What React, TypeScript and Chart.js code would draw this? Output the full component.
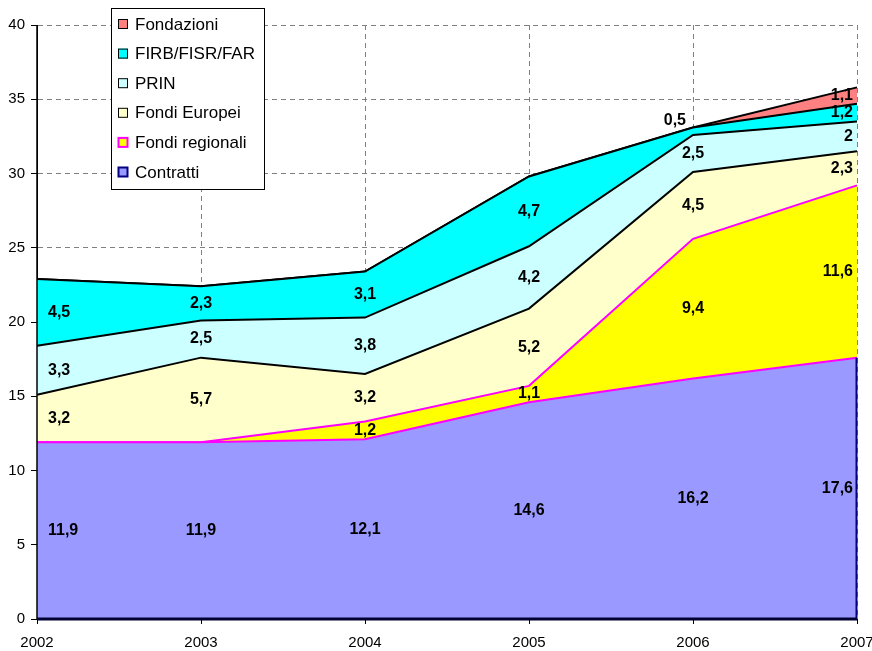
import React, { useEffect, useRef } from "react";
import { Chart, registerables } from "chart.js";

Chart.register(...registerables);

const years = ["2002", "2003", "2004", "2005", "2006", "2007"];
const contratti = [11.9, 11.9, 12.1, 14.6, 16.2, 17.6];
const fondiRegionali = [0, 0, 1.2, 1.1, 9.4, 11.6];
const fondiEuropei = [3.2, 5.7, 3.2, 5.2, 4.5, 2.3];
const prin = [3.3, 2.5, 3.8, 4.2, 2.5, 2];
const firb = [4.5, 2.3, 3.1, 4.7, 0.5, 1.2];
const fondazioni = [0, 0, 0, 0, 0, 1.1];

const seriesNames = ["Contratti", "Fondi regionali", "Fondi Europei", "PRIN", "FIRB/FISR/FAR", "Fondazioni"];
const fillColors = ["#9999FF", "#FFFF00", "#FFFFCC", "#CCFFFF", "#00FFFF", "#FF8080"];
const lineColors = ["#FF00FF", "#FF00FF", "#000000", "#000000", "#000000", "#000000"];
const legendBorders = ["#000080", "#FF00FF", "#000000", "#000000", "#000000", "#000000"];

const FONT = "'Liberation Sans', Arial, sans-serif";

const fmt = (v: number) => String(v).replace(".", ",");

const axesPlugin = {
  id: "solidAxes",
  afterDatasetsDraw(chart: any) {
    const ctx = chart.ctx;
    const a = chart.chartArea;
    ctx.save();
    ctx.strokeStyle = "#000";
    ctx.lineWidth = 1.5;
    ctx.beginPath();
    ctx.moveTo(a.left, a.top);
    ctx.lineTo(a.left, a.bottom);
    ctx.stroke();
    ctx.strokeStyle = "#000080";
    ctx.lineWidth = 2;
    ctx.beginPath();
    ctx.moveTo(a.right - 0.5, a.bottom);
    ctx.lineTo(a.right - 0.5, chart.scales.y.getPixelForValue(contratti[contratti.length - 1]));
    ctx.stroke();
    ctx.strokeStyle = "#000033";
    ctx.lineWidth = 3;
    ctx.beginPath();
    ctx.moveTo(a.left, a.bottom);
    ctx.lineTo(a.right, a.bottom);
    ctx.stroke();
    ctx.restore();
  },
};

const dataLabelsPlugin = {
  id: "stackLabels",
  afterDatasetsDraw(chart: any) {
    const ctx = chart.ctx;
    const xs = chart.scales.x;
    const ys = chart.scales.y;
    const n = chart.data.labels.length;
    const cum = new Array(n).fill(0);
    ctx.save();
    ctx.font = `bold 16px ${FONT}`;
    ctx.fillStyle = "#000";
    chart.data.datasets.forEach((ds: any) => {
      ds.data.forEach((v: number, j: number) => {
        const bottom = cum[j];
        cum[j] += v;
        if (!v) return;
        const top = cum[j];
        const px = xs.getPixelForValue(j);
        if (v < 1) {
          ctx.textAlign = "right";
          ctx.textBaseline = "alphabetic";
          ctx.fillText(fmt(v), px - 7, ys.getPixelForValue(top) - 2);
          return;
        }
        const py = ys.getPixelForValue((top + bottom) / 2);
        ctx.textBaseline = "middle";
        if (j === 0) {
          ctx.textAlign = "left";
          ctx.fillText(fmt(v), px + 11, py);
        } else if (j === n - 1) {
          ctx.textAlign = "right";
          ctx.fillText(fmt(v), px - 4, py);
        } else {
          ctx.textAlign = "center";
          ctx.fillText(fmt(v), px, py);
        }
      });
    });
    ctx.restore();
  },
};

const legendPlugin = {
  id: "boxLegend",
  afterDraw(chart: any) {
    const ctx = chart.ctx;
    ctx.save();
    const bx = 111.5, by = 8.5, bw = 153, bh = 181;
    ctx.fillStyle = "#fff";
    ctx.fillRect(bx, by, bw, bh);
    ctx.strokeStyle = "#000";
    ctx.lineWidth = 1;
    ctx.strokeRect(bx, by, bw, bh);
    ctx.font = `17px ${FONT}`;
    ctx.textAlign = "left";
    ctx.textBaseline = "middle";
    for (let k = 0; k < seriesNames.length; k++) {
      const i = seriesNames.length - 1 - k;
      const cy = 24 + k * 29.6;
      const thick = legendBorders[i] !== "#000000";
      ctx.fillStyle = fillColors[i];
      ctx.fillRect(118, cy - 5, 10, 10);
      ctx.strokeStyle = legendBorders[i];
      ctx.lineWidth = thick ? 2 : 1;
      ctx.strokeRect(118.5, cy - 4.5, 9, 9);
      ctx.fillStyle = "#000";
      ctx.fillText(seriesNames[i], 135, cy + 1);
    }
    ctx.restore();
  },
};

export default function App() {
  const ref = useRef<HTMLCanvasElement>(null);
  useEffect(() => {
    if (!ref.current) return;
    const series = [contratti, fondiRegionali, fondiEuropei, prin, firb, fondazioni];
    const chart = new Chart(ref.current, {
      type: "line",
      data: {
        labels: years,
        datasets: series.map((d, i) => ({
          label: seriesNames[i],
          data: d,
          backgroundColor: fillColors[i],
          borderColor: lineColors[i],
          borderWidth: 2,
          fill: i === 0 ? "origin" : "-1",
          pointRadius: 0,
          tension: 0,
        })),
      },
      options: {
        animation: false,
        responsive: false,
        devicePixelRatio: 1,
        layout: { padding: { top: 25, right: 15, left: 0, bottom: 0 } },
        plugins: { legend: { display: false }, tooltip: { enabled: false }, title: { display: false } },
        scales: {
          x: {
            type: "category",
            offset: false,
            grid: { color: "#808080", lineWidth: 1, tickColor: "#000", tickLength: 5, tickBorderDash: [] },
            border: { display: true, color: "#000033", width: 1, dash: [5, 4] },
            ticks: { color: "#000", font: { family: FONT, size: 15 }, padding: 10, maxRotation: 0, autoSkip: false },
            afterFit(scale: any) {
              scale.height = 32;
              scale.paddingLeft = 0;
              scale.paddingRight = 0;
            },
          },
          y: {
            stacked: true,
            min: 0,
            max: 40,
            ticks: { stepSize: 5, color: "#000", font: { family: FONT, size: 15 }, padding: 6 },
            grid: { color: "#808080", lineWidth: 1, tickColor: "#000", tickLength: 6, tickBorderDash: [] },
            border: { display: true, color: "#000", width: 1, dash: [5, 4] },
            afterFit(scale: any) {
              scale.width = 37;
              scale.paddingTop = 0;
              scale.paddingBottom = 0;
            },
          },
        },
      },
      plugins: [axesPlugin, dataLabelsPlugin, legendPlugin],
    });
    return () => chart.destroy();
  }, []);
  return (
    <div style={{ position: "absolute", left: 0, top: 0, width: 872, height: 651, background: "#fff" }}>
      <canvas ref={ref} width={872} height={651} />
    </div>
  );
}
